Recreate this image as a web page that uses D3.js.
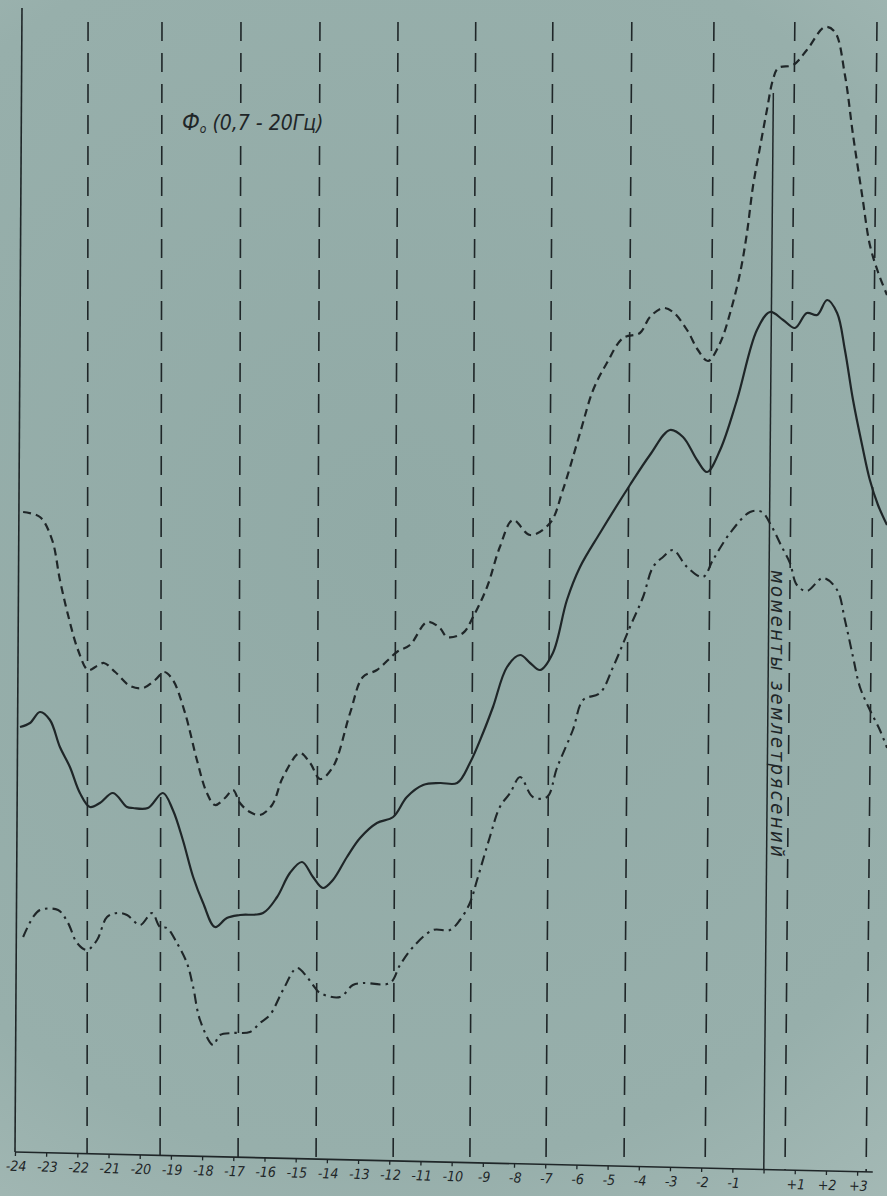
<!DOCTYPE html>
<html>
<head>
<meta charset="utf-8">
<script src="https://cdn.jsdelivr.net/npm/d3@7/dist/d3.min.js"></script>
<style>
	html, body { margin: 0; padding: 0; background: #95aca7; }
	svg { display: block; }
</style>
</head>
<body>
<svg id="chart"></svg>
<script>
'use strict';

// hours relative to the moment of the earthquake (x axis)
var tickHours = d3.range(-24, 4);

// vertical dashed guide lines, in hours (where they meet the time axis)
var gridHours = [-21.69, -19.35, -16.85, -14.35, -11.88, -9.42, -6.98, -4.48, -1.88, 0.68, 3.28];

// the solid line marking the earthquake moments
var quakeHour = 0;
var quakeTop = 105.7;
var gridTop = 112.8;
var axisTop = 114.2;

// dashed curve (upper)
var dashedHours = [-23.74, -23.20, -22.81, -22.56, -22.30, -21.98, -21.66, -21.37, -21.15, -20.79,
	-20.31, -19.90, -19.51, -19.22, -18.94, -18.55, -18.17, -17.85, -17.59, -17.27,
	-17.01, -16.79, -16.47, -16.15, -15.76, -15.41, -14.87, -14.54, -14.22, -13.81,
	-13.26, -12.85, -12.40, -11.76, -11.34, -10.79, -10.38, -10.15, -9.64, -9.32,
	-8.87, -8.46, -8.04, -7.49, -6.85, -6.44, -5.89, -5.47, -5.03, -4.51,
	-3.97, -3.65, -3.23, -2.91, -2.46, -2.11, -1.79, -1.40, -1.08, -0.76,
	-0.54, -0.35, -0.12, 0.10, 0.29, 0.46, 0.94, 1.38, 1.96, 2.28,
	2.60, 2.86, 3.15, 3.40, 3.66, 3.95];
var dashedValues = [63.8, 63.3, 61.0, 57.0, 53.5, 50.0, 48.0, 48.4, 48.7, 47.8,
	46.4, 46.2, 47.0, 47.8, 47.0, 43.7, 39.0, 35.7, 34.5, 35.2,
	36.0, 34.7, 33.8, 33.5, 34.5, 37.3, 39.7, 38.7, 37.1, 38.3,
	43.7, 47.3, 48.0, 49.8, 50.5, 52.8, 52.2, 51.3, 51.7, 53.3,
	56.3, 60.3, 63.0, 61.5, 62.7, 66.0, 71.7, 76.0, 78.7, 81.2,
	81.7, 83.3, 84.2, 83.8, 82.0, 80.0, 78.9, 80.7, 83.7, 87.7,
	91.7, 96.3, 100.3, 104.0, 107.0, 108.2, 108.5, 110.0, 112.3, 111.8,
	107.5, 101.5, 95.5, 90.5, 87.8, 85.5];

// solid curve (middle)
var solidHours = [-23.84, -23.52, -23.20, -22.88, -22.56, -22.24, -21.92, -21.60, -21.28, -20.86,
	-20.41, -20.22, -19.74, -19.26, -18.94, -18.62, -18.29, -17.97, -17.59, -17.21,
	-16.79, -16.05, -15.60, -15.19, -14.80, -14.45, -14.13, -13.81, -13.36, -12.94,
	-12.40, -11.88, -11.44, -10.92, -10.38, -9.83, -9.42, -9.00, -8.68, -8.23,
	-7.81, -7.49, -7.17, -6.76, -6.31, -5.89, -5.25, -4.29, -3.65, -3.01,
	-2.59, -2.14, -1.82, -1.40, -0.86, -0.22, 0.20, 0.62, 1.00, 1.38,
	1.71, 2.03, 2.35, 2.60, 2.86, 3.15, 3.40, 3.66, 3.95];
var solidValues = [42.3, 42.7, 43.8, 43.0, 40.3, 38.3, 35.7, 34.3, 34.7, 35.7,
	34.3, 34.2, 34.2, 35.7, 34.0, 31.0, 27.3, 24.7, 22.3, 23.2,
	23.5, 23.7, 25.3, 27.7, 28.8, 27.3, 26.2, 27.0, 29.3, 31.2,
	32.7, 33.3, 35.3, 36.5, 36.7, 36.7, 38.7, 41.7, 44.3, 48.3,
	49.5, 48.7, 48.0, 49.7, 55.0, 58.3, 61.7, 66.5, 69.5, 72.0,
	71.3, 69.0, 67.8, 70.0, 75.0, 82.0, 83.8, 83.0, 82.2, 83.7,
	83.5, 85.0, 83.7, 80.0, 75.0, 70.5, 67.0, 64.5, 62.5];

// dash-dot curve (lower)
var dashDotHours = [-23.74, -23.42, -23.20, -22.62, -22.30, -22.01, -21.69, -21.37, -21.05, -20.73,
	-20.41, -19.99, -19.61, -19.35, -19.13, -18.81, -18.49, -18.29, -18.07, -17.65,
	-17.43, -17.01, -16.47, -16.15, -15.83, -15.41, -14.96, -14.64, -14.45, -14.22,
	-13.58, -13.17, -12.85, -11.98, -11.66, -11.24, -10.60, -10.06, -9.74, -9.42,
	-9.19, -8.78, -8.46, -8.13, -7.81, -7.40, -6.95, -6.63, -6.12, -5.79,
	-5.25, -4.83, -4.29, -3.87, -3.55, -3.23, -2.91, -2.46, -1.95, -1.63,
	-1.08, -0.44, -0.06, 0.26, 0.58, 0.84, 1.06, 1.38, 1.90, 2.35,
	2.60, 2.86, 3.08, 3.40, 3.72, 3.95];
var dashDotValues = [21.3, 23.3, 24.0, 24.0, 22.7, 20.7, 20.0, 21.0, 23.3, 23.7,
	23.5, 22.5, 23.7, 22.3, 22.2, 20.7, 18.7, 16.3, 13.0, 10.5,
	11.5, 11.7, 11.8, 12.7, 13.5, 16.0, 18.2, 17.3, 16.5, 15.7,
	15.3, 16.5, 16.7, 16.7, 18.5, 20.3, 22.0, 22.0, 23.0, 24.7,
	27.0, 31.3, 34.3, 35.7, 37.3, 35.3, 35.3, 38.2, 42.0, 45.0,
	45.7, 48.3, 52.3, 55.3, 58.3, 59.3, 60.0, 58.3, 57.3, 59.0,
	61.7, 63.8, 63.8, 62.3, 60.3, 58.7, 56.5, 55.9, 57.2, 56.0,
	53.0, 49.3, 46.3, 44.0, 42.0, 40.2];

var titleMain = 'Ф';
var titleSub = 'о';
var titleRest = ' (0,7 - 20Гц)';
var quakeLabel = 'моменты землетрясений';

var width = 887,
	height = 1196,
	baseY = 1152,     // where the hand drawn time axis starts
	axisTilt = 1.34;  // the time axis runs slightly downhill

var ink = '#1f2628';
var fontFamily = '"DejaVu Sans Condensed", "DejaVu Sans", sans-serif';

var x = d3.scaleLinear().domain([-24, 3]).range([15, 857.4]);
var y = d3.scaleLinear().domain([0, 115]).range([1150, 0]);

var svg = d3.select('#chart')
	.attr('width', width)
	.attr('height', height);

// paper (user space, so the title patch picks up the same shade)
var defs = svg.append('defs');
var grad = defs.append('radialGradient')
	.attr('id', 'paper')
	.attr('gradientUnits', 'userSpaceOnUse')
	.attr('cx', width * 0.45).attr('cy', height * 0.45).attr('r', 900);
grad.append('stop').attr('offset', '0%').attr('stop-color', '#91aaa6');
grad.append('stop').attr('offset', '70%').attr('stop-color', '#97afab');
grad.append('stop').attr('offset', '100%').attr('stop-color', '#a9bdb9');
svg.append('rect')
	.attr('width', width)
	.attr('height', height)
	.attr('fill', 'url(#paper)');

// the axis line sits lower on the right, so verticals are stretched to meet it
function axisYAt(px) {
	return baseY + (px - x(-24)) * Math.tan(axisTilt * Math.PI / 180);
}
// the photographed verticals lean right at the top, more so on the right side
function leanAt(px) {
	return 1 + 10 * (px - 88) / 790;
}

var verticals = svg.append('g')
	.attr('stroke', ink)
	.attr('fill', 'none');

// left border line
verticals.append('line')
	.attr('x1', x(-24) + 7).attr('x2', x(-24))
	.attr('y1', y(axisTop)).attr('y2', baseY)
	.attr('stroke-width', 1.6);

verticals.selectAll('line.grid')
	.data(gridHours)
	.enter().append('line')
	.attr('class', 'grid')
	.attr('x1', function (d) { return x(d) + leanAt(x(d)); })
	.attr('x2', function (d) { return x(d); })
	.attr('y1', y(gridTop))
	.attr('y2', function (d) { return axisYAt(x(d)); })
	.attr('stroke-width', 1.6)
	.attr('stroke-dasharray', '19,12');

verticals.append('line')
	.attr('x1', x(quakeHour) + leanAt(x(quakeHour))).attr('x2', x(quakeHour))
	.attr('y1', y(quakeTop)).attr('y2', axisYAt(x(quakeHour)))
	.attr('stroke-width', 1.5);

// time axis
var xAxis = d3.axisBottom(x)
	.tickValues(tickHours)
	.tickSize(4)
	.tickSizeOuter(0)
	.tickFormat(function (d) {
		if (d === 0) return '';
		return d > 0 ? '+' + d : String(d);
	});

var axisG = svg.append('g')
	.attr('transform', 'rotate(' + axisTilt + ',' + x(-24) + ',' + baseY + ') translate(0,' + baseY + ')')
	.call(xAxis);

axisG.select('.domain')
	.attr('d', 'M' + x(-24) + ',0H' + x(3.5))
	.attr('stroke', ink)
	.attr('stroke-width', 1.6);
axisG.selectAll('.tick line')
	.attr('stroke', ink)
	.attr('stroke-width', 1.3);
axisG.selectAll('.tick text')
	.attr('y', 9)
	.attr('dx', 1)
	.attr('fill', ink)
	.style('font-family', fontFamily)
	.style('font-style', 'italic')
	.style('font-size', '14px');

// curves
var line = d3.line()
	.curve(d3.curveCatmullRom.alpha(0.5))
	.x(function (d) { return x(d[0]); })
	.y(function (d) { return y(d[1]); });

var series = [
	{ hours: dashedHours, values: dashedValues, dash: '8,5', w: 2.2 },
	{ hours: solidHours, values: solidValues, dash: null, w: 2.2 },
	{ hours: dashDotHours, values: dashDotValues, dash: '10,5,2.5,5', w: 2.1 }
];

series.forEach(function (s) {
	svg.append('path')
		.datum(d3.zip(s.hours, s.values))
		.attr('fill', 'none')
		.attr('stroke', ink)
		.attr('stroke-width', s.w)
		.attr('stroke-linejoin', 'round')
		.attr('stroke-dasharray', s.dash)
		.attr('d', line);
});

// title, top left; the guide lines break around it
var titleG = svg.append('g');
var patch = titleG.append('rect').attr('fill', 'url(#paper)');
var title = titleG.append('text')
	.attr('x', 182)
	.attr('y', 130)
	.attr('fill', ink)
	.style('font-family', fontFamily)
	.style('font-style', 'italic')
	.style('font-size', '21px');
title.append('tspan').style('font-size', '23px').text(titleMain);
title.append('tspan').attr('dy', 3).style('font-size', '12px').text(titleSub);
title.append('tspan').attr('dy', -3).text(titleRest);

var tb = title.node().getBBox();
patch
	.attr('x', tb.x - 4)
	.attr('y', tb.y - 6)
	.attr('width', tb.width + 10)
	.attr('height', tb.height + 12);

// label along the earthquake line
svg.append('text')
	.attr('transform', 'translate(771,570) rotate(90)')
	.attr('fill', ink)
	.attr('textLength', 287)
	.attr('lengthAdjust', 'spacing')
	.style('font-family', fontFamily)
	.style('font-style', 'italic')
	.style('font-size', '20px')
	.text(quakeLabel);
</script>
</body>
</html>
